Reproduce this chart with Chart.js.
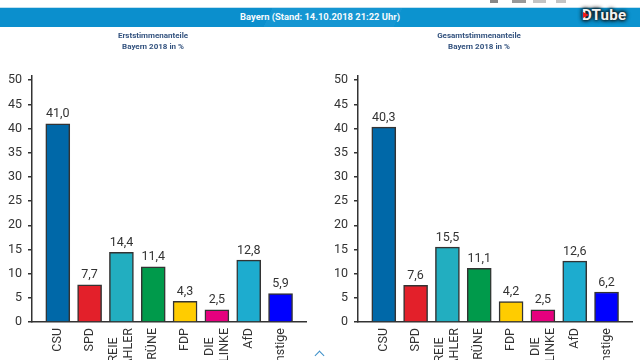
<!DOCTYPE html>
<html lang="de">
<head>
<meta charset="utf-8">
<title>Bayern 2018</title>
<script src="https://cdn.jsdelivr.net/npm/chart.js@4"></script>
<style>
  html, body { margin: 0; padding: 0; background: #fff; overflow: hidden; }
  body { width: 640px; height: 360px; position: relative; font-family: Roboto, sans-serif; }
  #header {
    position: absolute; left: 0; top: 7px; width: 640px; height: 20px;
    background: linear-gradient(115deg, #0b8fcd 0 42%, #1596d2 42% 62%, #0c93cf 62% 100%);
    color: #f4fafd; font-size: 9.4px; font-weight: 700; text-align: center; box-sizing: border-box;
    border-top: 1px solid #bfe0f0; line-height: 18px;
  }
  #logo {
    position: absolute; left: 582px; top: 6px; width: 50px; height: 18px; line-height: 18px;
    color: #f3f3f3; font-size: 15px; font-weight: 700; letter-spacing: 0.3px;
    text-shadow: 0 0 3px #111, 0 0 4px #111, 0 0 5px #111;
  }
  #logo i {
    position: absolute; left: 1px; top: 6px; width: 0; height: 0;
    border-left: 6px solid #f01a1a; border-top: 3px solid transparent; border-bottom: 3px solid transparent;
  }
  .wrap { position: absolute; top: 27px; width: 310px; height: 333px; }
  #wrap-first { left: 0; }
  #wrap-total { left: 326px; }
  #chevron {
    position: absolute; left: 316px; top: 352px; width: 6px; height: 6px; transform: rotate(45deg);
    border-left: 1.5px solid #3d8fc9; border-top: 1.5px solid #3d8fc9;
  }
  .top-icon { position: absolute; top: 0; height: 3px; background: #c4c4c4; }
</style>
</head>
<body>
<div class="top-icon" style="left:490px;width:8px;background:#888"></div>
<div class="top-icon" style="left:512px;width:14px;background:#999"></div>
<div class="top-icon" style="left:533px;width:13px"></div>
<div class="top-icon" style="left:556px;width:10px"></div>
<div id="header">Bayern (Stand: 14.10.2018 21:22 Uhr)</div>
<div id="logo"><i></i>DTube</div>
<div class="wrap" id="wrap-first"><canvas id="chart-first" width="310" height="333"></canvas></div>
<div class="wrap" id="wrap-total"><canvas id="chart-total" width="310" height="333"></canvas></div>
<div id="chevron"></div>
<script>
// Leerzeichen hinten: die kürzere Zeile soll mittig zur längeren stehen
const parties = ['CSU', 'SPD', ['FREIE   ', 'WÄHLER'], 'GRÜNE', 'FDP', ['DIE   ', 'LINKE'], 'AfD', 'Sonstige'];
const firstVotes = [41.0, 7.7, 14.4, 11.4, 4.3, 2.5, 12.8, 5.9];
const totalVotes = [40.3, 7.6, 15.5, 11.1, 4.2, 2.5, 12.6, 6.2];
const barColors = ['#0068a8', '#e3202a', '#22aec0', '#009a4b', '#ffcc00', '#e6007e', '#1daccf', '#0000ff'];
const INK = '#333';

// Wert über jeden Balken schreiben, mit Komma
const valueLabels = {
  id: 'valueLabels',
  afterDatasetsDraw(chart) {
    const ctx = chart.ctx;
    const meta = chart.getDatasetMeta(0);
    ctx.save();
    ctx.font = '12.5px Roboto';
    ctx.fillStyle = INK;
    ctx.textAlign = 'center';
    ctx.textBaseline = 'alphabetic';
    meta.data.forEach((bar, i) => {
      const v = chart.data.datasets[0].data[i].y;
      ctx.fillText(v.toFixed(1).replace('.', ','), bar.x, bar.y - 6.5);
    });
    ctx.restore();
  }
};

function drawChart(id, titleLine, values) {
  new Chart(document.getElementById(id), {
    type: 'bar',
    data: {
      datasets: [{
        data: values.map((v, i) => ({ x: i, y: v })),
        backgroundColor: barColors,
        borderColor: INK,
        borderWidth: 1.5,
        barThickness: 24,
      }]
    },
    options: {
      responsive: false,
      animation: false,
      layout: { padding: { left: 0, right: 4, top: 0, bottom: 0 } },
      plugins: {
        legend: { display: false },
        tooltip: { enabled: false },
        title: {
          display: true,
          text: [titleLine, 'Bayern 2018 in %'],
          color: '#34537f',
          font: { family: 'Roboto', size: 8, weight: 'bold', lineHeight: 1.4 },
          padding: { top: 3, bottom: 23 },
        }
      },
      scales: {
        x: {
          type: 'linear',
          offset: false,
          min: -0.81,
          max: 7.8,
          afterFit: s => { s.height = 38; },
          // zweizeilige Beschriftungen etwas nach links, sonst sitzen sie nicht mittig unterm Balken
          afterBuildTicks: s => { s.ticks = parties.map((p, i) => ({ value: Array.isArray(p) ? i - 0.235 : i })); },
          border: { color: INK, width: 1.5 },
          grid: { display: false, drawTicks: false },
          ticks: {
            autoSkip: false,
            minRotation: 90,
            maxRotation: 90,
            padding: 6,
            color: INK,
            font: { family: 'Roboto', size: 12.5, lineHeight: 1.2 },
            callback: (v, i) => parties[i],
          }
        },
        y: {
          min: 0,
          max: 51,
          afterFit: s => { s.width = 32; },
          border: { color: INK, width: 1.5 },
          grid: { drawOnChartArea: false, drawTicks: true, tickLength: 4, color: INK, lineWidth: 1.5 },
          ticks: {
            stepSize: 5,
            includeBounds: false,
            padding: 6,
            color: INK,
            font: { family: 'Roboto', size: 12.5 },
          }
        }
      }
    },
    plugins: [valueLabels]
  });
}

drawChart('chart-first', 'Erststimmenanteile', firstVotes);
drawChart('chart-total', 'Gesamtstimmenanteile', totalVotes);
</script>
</body>
</html>
